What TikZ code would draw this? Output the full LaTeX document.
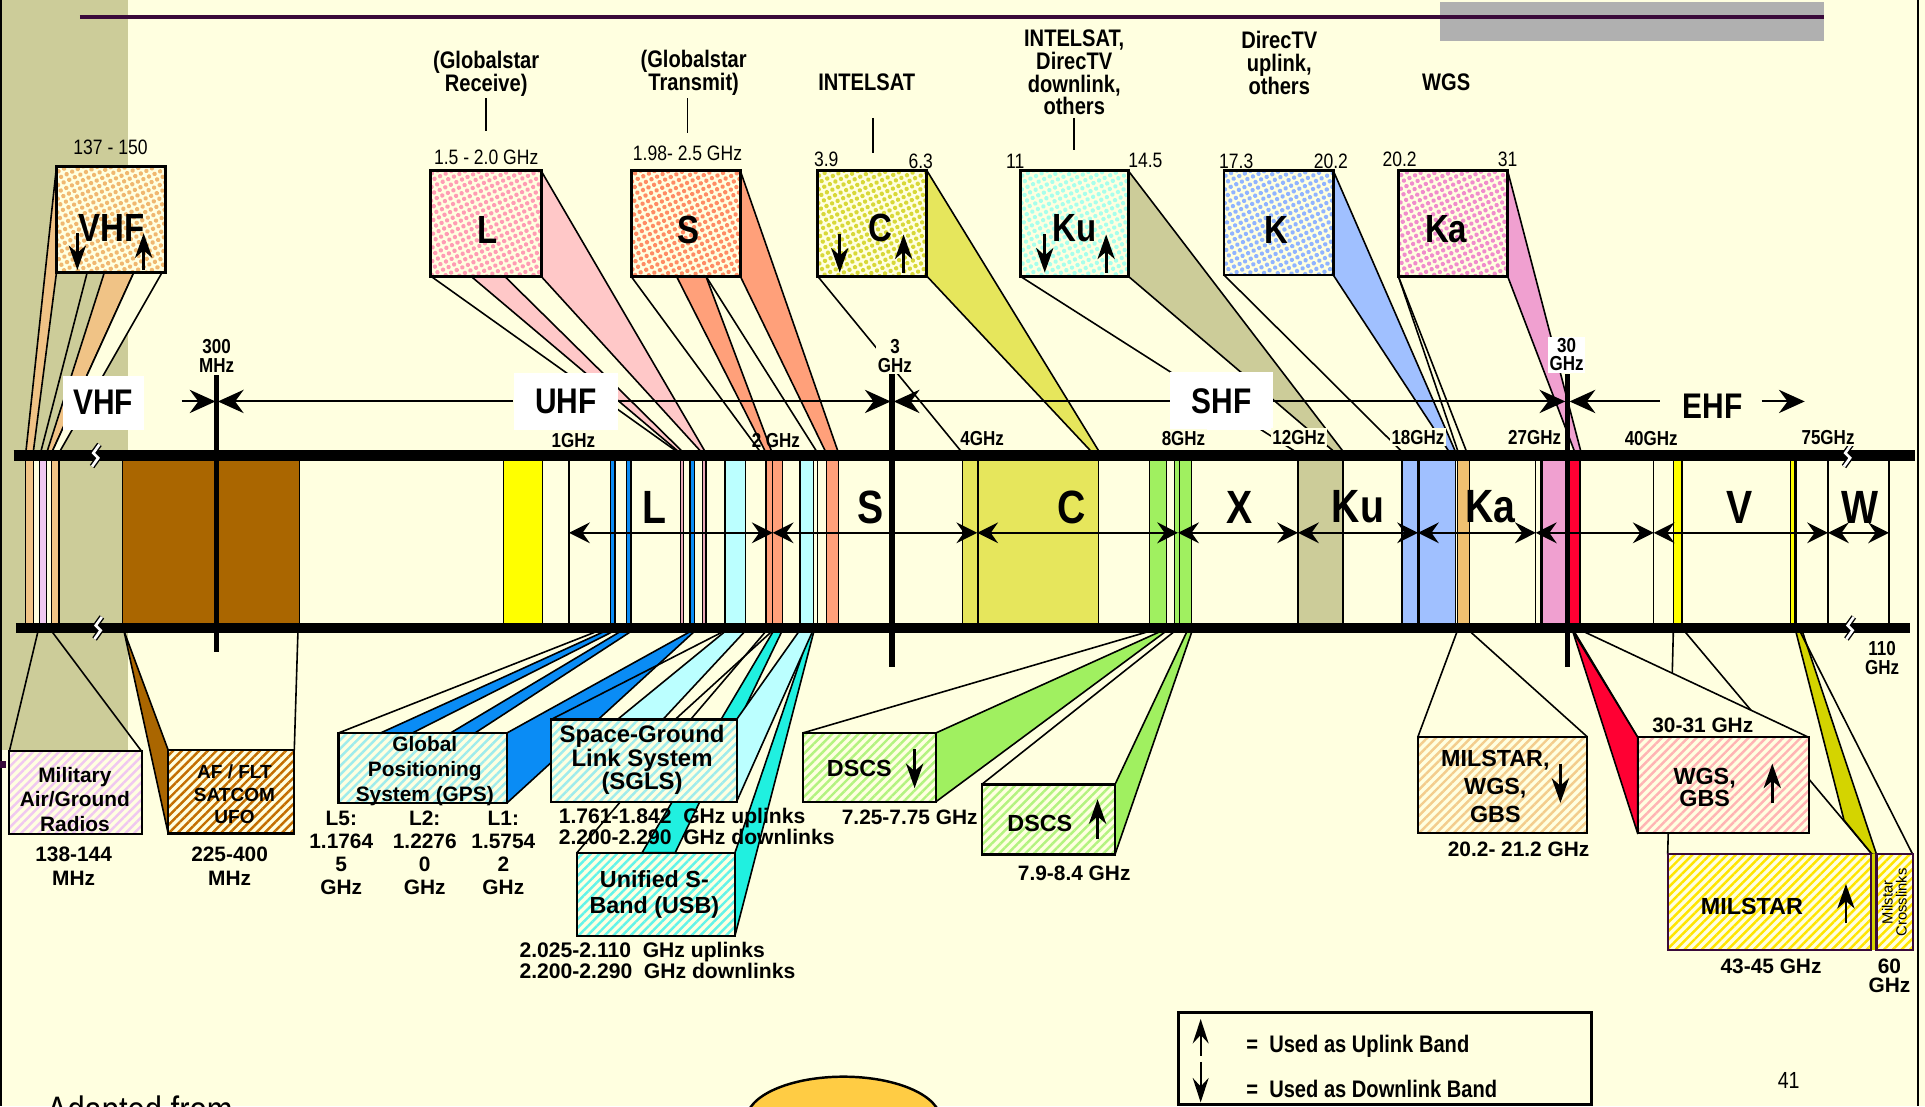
\documentclass[tikz,border=0pt]{standalone}
\usepackage{fontspec}
\setmainfont{Liberation Sans}
\newfontfamily\cnd{Liberation Sans}[FakeStretch=0.84]
\usetikzlibrary{arrows.meta,patterns.meta}

\definecolor{cream}{HTML}{FFFFE0}
\definecolor{olive}{HTML}{CCCC99}
\definecolor{tanb}{HTML}{F0C386}
\definecolor{lilac}{HTML}{F0C8F0}
\definecolor{brownb}{HTML}{AA6600}
\definecolor{ltpink}{HTML}{FFC8C8}
\definecolor{pinkt}{HTML}{E8A8B8}
\definecolor{salmon}{HTML}{FFA07A}
\definecolor{ygreen}{HTML}{E6E65C}
\definecolor{ltcyan}{HTML}{BBFFFF}
\definecolor{ltblue}{HTML}{A0C0FF}
\definecolor{pinkk}{HTML}{F0A0D0}
\definecolor{gpsblue}{HTML}{0A8CF5}
\definecolor{turq}{HTML}{20F0E0}
\definecolor{dscsgreen}{HTML}{A0F060}
\definecolor{redb}{HTML}{FF0033}
\definecolor{yel}{HTML}{FFFF00}
\definecolor{oyel}{HTML}{D4D400}
\definecolor{orangeb}{HTML}{F0C070}
\definecolor{plum}{HTML}{3A0A3A}
\definecolor{greyb}{HTML}{B0B0B0}
\definecolor{ellfill}{HTML}{FFCC44}
% texture colours of the upper boxes
\definecolor{dotVHF}{HTML}{F0B870}
\definecolor{dotL}{HTML}{FF9CB4}
\definecolor{dotS}{HTML}{FF8C64}
\definecolor{dotC}{HTML}{D8D838}
\definecolor{dotKu}{HTML}{A8FFEC}
\definecolor{dotK}{HTML}{90B4FF}
\definecolor{dotKa}{HTML}{F08CCC}

\newcommand\fRange{\cnd\bfseries\fontsize{29}{29}\selectfont}
\newcommand\fBand{\cnd\bfseries\fontsize{38}{38}\selectfont}
\newcommand\fBoxL{\cnd\bfseries\fontsize{32}{32}\selectfont}
\newcommand\fTitle{\cnd\bfseries\fontsize{19.5}{18.6}\selectfont}
\newcommand\fFreq{\cnd\fontsize{17}{17}\selectfont}
\newcommand\fEdge{\cnd\bfseries\fontsize{16.5}{15}\selectfont}
\newcommand\fBox{\bfseries\fontsize{17}{20}\selectfont}

\tikzset{
  fan/.style={draw=black, line width=1.3pt, line join=round},
  tbox/.style={draw=black, line width=2.4pt},
  rowA/.style={line width=1.6pt, -{Stealth[length=21pt,width=19pt,inset=7pt]}},
  rangeB/.style={line width=1.4pt, {Stealth[length=17pt,width=17pt,inset=6pt]}-{Stealth[length=17pt,width=17pt,inset=6pt]}},
  dirarrow/.style={line width=2.3pt, -{Stealth[length=20pt,width=14pt,inset=6pt]}},
  keyarrow/.style={line width=1.6pt, -{Stealth[length=20pt,width=13pt,inset=7pt]}},
  ttl/.style={font=\fTitle, align=center, inner sep=0pt},
  frq/.style={font=\fFreq, inner sep=0pt},
  edgel/.style={font=\fEdge, align=center, fill=cream, inner sep=1.5pt},
  bandl/.style={font=\fBand, inner sep=0pt},
  boxl/.style={font=\fBoxL, inner sep=0pt},
  btxt/.style={font=\fBox, align=center, inner sep=0pt},
}

\newcommand\bandfill[3]{\filldraw[fill=#1,draw=black,line width=1pt] (#2,371) rectangle (#3,511.5);}
\newcommand\bandline[1]{\draw[line width=1pt] (#1,371) -- (#1,511.5);}
\newcommand\dotbox[5]{%
  \fill[cream] (#2,#3) rectangle (#4,#5);
  \fill[pattern={Dots[radius=1.8pt,distance=5pt,angle=25]},pattern color=#1] (#2,#3) rectangle (#4,#5);
  \draw[tbox] (#2,#3) rectangle (#4,#5);}
\newcommand\hatchbox[6][black]{%
  \fill[cream] (#3,#4) rectangle (#5,#6);
  \fill[pattern={Lines[angle=45,distance=5pt,line width=2pt]},pattern color=#2] (#3,#4) rectangle (#5,#6);
  \draw[draw=#1,line width=1.8pt] (#3,#4) rectangle (#5,#6);}

\begin{document}
\begin{tikzpicture}[x=1pt,y=-1pt]
\useasboundingbox (0,0) rectangle (1568,901);
\clip (0,0) rectangle (1568,901);

% page ground
\fill[cream] (0,0) rectangle (1568,901);
\fill[olive] (2,0) rectangle (104,611);
\draw[line width=2pt] (1,0) -- (1,901);
\draw[line width=1.5pt] (1562,0) -- (1562,901);
\fill[plum] (0,620) rectangle (5,625.5);

% header rule
\fill[greyb] (1173,1.6) rectangle (1485.6,33);
\draw[plum, line width=3pt] (65,14) -- (1485.6,14);

% ---------------- spectrum strip ----------------
\bandfill{tanb}{21}{27}
\bandfill{cream}{27}{32}
\bandfill{lilac}{32}{38}
\bandfill{cream}{38}{42}
\bandfill{tanb}{42}{48}
\bandline{100}
\bandfill{brownb}{100}{244}
\bandfill{yel}{410}{442}
\bandline{463.5}
\bandfill{gpsblue}{497}{501}
\bandfill{gpsblue}{510}{514}
\bandfill{pinkt}{554}{557}
\bandfill{gpsblue}{562}{566}
\bandfill{pinkt}{572}{575}
\bandfill{ltcyan}{590.5}{607.5}
\bandfill{salmon}{624}{629.4}
\bandfill{salmon}{629.4}{637.5}
\bandfill{ltcyan}{651.6}{662.5}
\bandline{666}
\bandfill{salmon}{673}{683}
\bandfill{ygreen}{784}{796}
\bandfill{ygreen}{796.6}{895}
\bandfill{dscsgreen}{936}{950}
\bandfill{dscsgreen}{956.7}{961}
\bandfill{dscsgreen}{961}{970.5}
\bandfill{olive}{1057.3}{1094}
\bandfill{ltblue}{1142}{1155}
\bandfill{ltblue}{1156}{1185.5}
\bandfill{orangeb}{1187}{1197}
\bandline{1251}
\bandline{1255}
\bandfill{pinkk}{1256}{1275}
\bandfill{redb}{1278.6}{1287}
\bandline{1347}
\bandfill{yel}{1363}{1370}
\bandfill{yel}{1458.6}{1462}
\bandline{1463.6}
\bandline{1489}
\bandline{1538.7}

% ---------------- upper fans ----------------
% VHF
\filldraw[fan, fill=tanb] (46,136) -- (46,222) -- (27,369) -- (21,369) -- cycle;
\draw[fan] (71,222) -- (33,369);
\filldraw[fan, fill=tanb] (85,222) -- (109,222) -- (42,369) -- (38,369) -- cycle;
\filldraw[fan, fill=cream] (109,222) -- (132,222) -- (48,369) -- (42,369) -- cycle;
% L
\draw[fan] (351,225) -- (553,369);
\filldraw[fan, fill=ltpink] (383.6,225) -- (411,225) -- (557,369) -- (554,369) -- cycle;
\filldraw[fan, fill=ltpink] (440.7,139) -- (575,369) -- (572,369) -- (440.7,225) -- cycle;
% S
\draw[fan] (514,225) -- (620,369);
\filldraw[fan, fill=salmon] (551,225) -- (575,225) -- (629,369) -- (624,369) -- cycle;
\draw[fan] (575,225) -- (666,369);
\filldraw[fan, fill=salmon] (603,139) -- (683,369) -- (673,369) -- (603,225) -- cycle;
% C
\draw[fan] (666,225) -- (784,369);
\filldraw[fan, fill=ygreen] (755,139) -- (896,369) -- (890,369) -- (755,225) -- cycle;
% Ku
\draw[fan] (831,225) -- (1057,369);
\filldraw[fan, fill=olive] (919,139) -- (1095,369) -- (1088,369) -- (919,225) -- cycle;
% K
\draw[fan] (997,224) -- (1143,369);
\filldraw[fan, fill=ltblue] (1086,139) -- (1186,369) -- (1181,369) -- (1086,224) -- cycle;
% Ka
\draw[fan] (1139,225) -- (1188,369);
\draw[fan] (1139,225) -- (1195,369);
\filldraw[fan, fill=pinkk] (1228,139) -- (1288,369) -- (1283,369) -- (1228,225) -- cycle;

% ---------------- lower fans ----------------
% military radios
\draw[fan] (31,514) -- (7.6,612);
\draw[fan] (42,514) -- (115.4,612);
% UFO
\filldraw[fan, fill=brownb] (101,514) -- (137,611) -- (137,679) -- cycle;
\draw[fan] (242.7,514) -- (239.7,611);
% GPS
\draw[fan] (487,514) -- (275.8,597);
\filldraw[fan, fill=gpsblue] (493,514) -- (500,514) -- (336,597) -- (310,597) -- cycle;
\filldraw[fan, fill=gpsblue] (506,514) -- (514.5,514) -- (387,597) -- (367,597) -- cycle;
\filldraw[fan, fill=gpsblue] (563,514) -- (566,514) -- (413,654) -- (413,597) -- cycle;
% USB (behind SGLS)
\draw[fan] (624,514) -- (470,694.5);
\filldraw[fan, fill=turq] (630,514) -- (637,514) -- (550,694.5) -- (523,694.5) -- cycle;
\filldraw[fan, fill=turq] (660,514) -- (663,514) -- (598.7,762) -- (598.7,694.5) -- cycle;
% SGLS
\draw[fan] (590,514) -- (449,586);
\filldraw[fan, fill=ltcyan] (591,514) -- (607,514) -- (540,586) -- (503,586) -- cycle;
\draw[fan] (629,514) -- (550,586);
\filldraw[fan, fill=ltcyan] (651,514) -- (662,514) -- (600,653) -- (600,586) -- cycle;
% DSCS
\draw[fan] (937,514) -- (654,597);
\filldraw[fan, fill=dscsgreen] (946,514) -- (950,514) -- (762.4,653) -- (762.4,597) -- cycle;
\draw[fan] (957,514) -- (799.6,639);
\filldraw[fan, fill=dscsgreen] (967,514) -- (971,514) -- (908.2,696) -- (908.2,639) -- cycle;
% MILSTAR / WGS / GBS downlink
\draw[fan] (1187,514) -- (1155,600);
\draw[fan] (1197,514) -- (1292.7,600);
% MILSTAR uplink and crosslinks
\draw[fan] (1363,514) -- (1358.4,696);
\draw[fan] (1372,514) -- (1525,696);
\filldraw[fan, fill=oyel] (1462.7,514) -- (1502,668) -- (1525,696) -- (1528.5,696) -- (1468,514) -- cycle;
\draw[fan] (1466,514) -- (1558,696);
% WGS / GBS uplink
\filldraw[fan, fill=cream] (1282,514) -- (1289,514) -- (1473.3,600.6) -- (1334,600.6) -- cycle;
\filldraw[fan, fill=redb] (1281,514) -- (1334,600.6) -- (1334,679) -- cycle;

% ---------------- bars and boundaries ----------------
\draw[line width=8.5pt] (11,371) -- (1560,371);
\draw[line width=8.5pt] (13,511.5) -- (1556,511.5);
\foreach \bx/\by in {78/371, 80/511.5, 1505/371, 1507/511.5}{
  \draw[line width=4.5pt] (\bx-3,\by+9) -- (\bx+2,\by+2) -- (\bx-2,\by-2) -- (\bx+3,\by-9);
  \draw[white, line width=2.2pt] (\bx-3,\by+9) -- (\bx+2,\by+2) -- (\bx-2,\by-2) -- (\bx+3,\by-9);
}
\draw[line width=4.5pt] (176.4,305.5) -- (176.4,530.8);
\draw[line width=4.5pt] (726.7,305) -- (726.7,543);
\draw[line width=4.2pt] (1276.5,305) -- (1276.5,543);

% ---------------- range arrows ----------------
\draw[rowA] (148,327) -- (175.5,327);
\draw[rowA] (418,327) -- (177.5,327);
\draw[rowA] (503,327) -- (725.5,327);
\draw[rowA] (953,327) -- (728,327);
\draw[rowA] (1037,327) -- (1275,327);
\draw[rowA] (1352,327) -- (1278.5,327);
\draw[rowA] (1435,327) -- (1470,327);
\foreach \a/\b in {463.5/629.4, 629.4/796, 796/959.6, 959.6/1057.3, 1057.3/1155, 1155/1251, 1251/1347, 1347/1489, 1489/1538.7}
  \draw[rangeB] (\a,434) -- (\b,434);

\node[fill=white, minimum width=66pt, minimum height=44pt, font=\fRange] (rVHF) at (84,328) {VHF};
\node[fill=white, minimum width=85pt, minimum height=46pt, font=\fRange] (rUHF) at (461,327) {UHF};
\node[fill=white, minimum width=84pt, minimum height=47pt, font=\fRange] (rSHF) at (995,326.5) {SHF};
\node[font=\fRange, inner sep=0pt] (rEHF) at (1395,331) {EHF};

\node[edgel] (e300) at (176.4,290) {300\\MHz};
\node[edgel] (e3) at (729,290) {3\\GHz};
\node[edgel, fill=white] (e30) at (1276,289) {30\\GHz};
\node[edgel, fill=none] (e110) at (1533,536) {110\\GHz};
\node[edgel] (g1) at (467,358.5) {1GHz};
\node[edgel, fill=none] (g2) at (632,358.5) {2 GHz};
\node[edgel] (g4) at (800,357) {4GHz};
\node[edgel] (g8) at (964,357) {8GHz};
\node[edgel] (g12) at (1058,356) {12GHz};
\node[edgel] (g18) at (1155,356) {18GHz};
\node[edgel] (g27) at (1250,356) {27GHz};
\node[edgel] (g40) at (1345,357) {40GHz};
\node[edgel] (g75) at (1489,356) {75GHz};

\node[bandl] (bL) at (533,413) {L};
\node[bandl] (bS) at (709,413) {S};
\node[bandl] (bC) at (873,413) {C};
\node[bandl] (bX) at (1010,413) {X};
\node[bandl] (bKu) at (1106,413) {Ku};
\node[bandl] (bKa) at (1214,413) {Ka};
\node[bandl] (bV) at (1417,413) {V};
\node[bandl] (bW) at (1515,413) {W};

% ---------------- upper boxes ----------------
\dotbox{dotVHF}{46}{136}{135}{222}
\dotbox{dotL}{351}{139}{440.7}{225}
\dotbox{dotS}{514}{139}{603}{225}
\dotbox{dotC}{666}{139}{755}{225}
\dotbox{dotKu}{831}{139}{919}{225}
\dotbox{dotK}{997}{139}{1086}{224}
\dotbox{dotKa}{1139}{139}{1228}{225}
\node[boxl] (kVHF) at (91,186) {VHF};
\node[boxl] (kL) at (397,187) {L};
\node[boxl] (kS) at (561,187) {S};
\node[boxl] (kC) at (717,186) {C};
\node[boxl] (kKu) at (875,186) {Ku};
\node[boxl] (kK) at (1040,187) {K};
\node[boxl] (kKa) at (1178,187) {Ka};
\draw[dirarrow] (63,190) -- (63,220);
\draw[dirarrow] (117,220) -- (117,190);
\draw[dirarrow] (684,191) -- (684,222);
\draw[dirarrow] (736,222) -- (736,191);
\draw[dirarrow] (851,191) -- (851,222);
\draw[dirarrow] (901,222) -- (901,191);

% ---------------- upper captions ----------------
\node[ttl] (tGR) at (396,60) {(Globalstar\\Receive)};
\node[ttl] (tGT) at (565,59) {(Globalstar\\Transmit)};
\node[ttl] (tIS) at (706,67) {INTELSAT};
\node[ttl] (tID) at (875,59) {INTELSAT,\\DirecTV\\downlink,\\others};
\node[ttl] (tDU) at (1042,51.5) {DirecTV\\uplink,\\others};
\node[ttl] (tWG) at (1178,67) {WGS};
\draw[line width=1.3pt] (396,80) -- (396,107);
\draw[line width=1.3pt] (560,80) -- (560,108);
\draw[line width=1.3pt] (711,96) -- (711,125);
\draw[line width=1.3pt] (875,96) -- (875,122);

\node[frq] (f1) at (90,120) {137 - 150};
\node[frq] (f2) at (396,128) {1.5 - 2.0 GHz};
\node[frq] (f3) at (560,125) {1.98- 2.5 GHz};
\node[frq] (f4) at (673,130) {3.9};
\node[frq] (f5) at (750,131) {6.3};
\node[frq] (f6) at (827,131) {11};
\node[frq] (f7) at (933,131) {14.5};
\node[frq] (f8) at (1007,131) {17.3};
\node[frq] (f9) at (1084,131) {20.2};
\node[frq] (f10) at (1140,130) {20.2};
\node[frq] (f11) at (1228,130) {31};

% ---------------- lower boxes ----------------
\hatchbox{lilac}{7.6}{612}{115.4}{679.6}
\node[btxt] (mil) at (61,651) {Military\\Air/Ground\\Radios};
\node[btxt] (milf) at (60,705.5) {138-144\\MHz};

\hatchbox{brownb!70!orange}{137}{611}{239.7}{679}
\node[btxt, font=\bfseries\fontsize{15.5}{18.5}\selectfont] (ufo) at (191,647) {AF / FLT\\SATCOM\\UFO};
\node[btxt] (ufof) at (187,705.5) {225-400\\MHz};

\hatchbox{ltcyan!85!teal}{275.8}{597}{413}{653.8}
\node[btxt, font=\bfseries\fontsize{17}{20.5}\selectfont] (gps) at (346,628) {Global\\Positioning\\System (GPS)};
\node[btxt, font=\bfseries\fontsize{17}{18.7}\selectfont] (gl5) at (278,694.5) {L5:\\1.1764\\5\\GHz};
\node[btxt, font=\bfseries\fontsize{17}{18.7}\selectfont] (gl2) at (346,694.5) {L2:\\1.2276\\0\\GHz};
\node[btxt, font=\bfseries\fontsize{17}{18.7}\selectfont] (gl1) at (410,694.5) {L1:\\1.5754\\2\\GHz};

\hatchbox{turq!70!white}{470}{694.5}{598.7}{762.4}
\node[btxt, font=\bfseries\fontsize{19}{21}\selectfont] (usb) at (533,728.5) {Unified S-\\Band (USB)};
\node[btxt, font=\bfseries\fontsize{17.2}{17}\selectfont, align=left, anchor=west] (usbf) at (423,782.5) {2.025-2.110\ \ GHz uplinks\\2.200-2.290\ \ GHz downlinks};

\hatchbox{ltcyan!85!teal}{449}{586}{600}{653}
\node[btxt, font=\bfseries\fontsize{19.5}{18}\selectfont] (sgls) at (523,619) {Space-Ground\\Link System\\(SGLS)};
\node[btxt, font=\bfseries\fontsize{17.2}{17}\selectfont, align=left, anchor=west] (sglsf) at (455,673.5) {1.761-1.842\ \ GHz uplinks\\2.200-2.290\ \ GHz downlinks};

\hatchbox{dscsgreen!80!white}{653.8}{597}{762.4}{653}
\node[btxt, font=\bfseries\fontsize{19}{19}\selectfont] (dd) at (700,626) {DSCS};
\draw[dirarrow] (745,610) -- (745,642);
\node[btxt] (ddf) at (741,666) {7.25-7.75 GHz};

\hatchbox{dscsgreen!80!white}{799.6}{639}{908.2}{696}
\node[btxt, font=\bfseries\fontsize{19}{19}\selectfont] (du) at (847,670.5) {DSCS};
\draw[dirarrow] (894,683) -- (894,651);
\node[btxt] (duf) at (875,711) {7.9-8.4 GHz};

\hatchbox{orangeb!80!white}{1155}{600}{1292.7}{678.8}
\node[btxt, font=\bfseries\fontsize{19}{23}\selectfont] (mwg) at (1218,640.5) {MILSTAR,\\WGS,\\GBS};
\draw[dirarrow] (1271,622) -- (1271,654);
\node[btxt] (mwgf) at (1237,692) {20.2- 21.2 GHz};

\hatchbox{ltpink!90!red}{1334}{600.6}{1473.3}{678.8}
\node[btxt, font=\bfseries\fontsize{19}{18}\selectfont] (wg) at (1388.5,641.5) {WGS,\\GBS};
\draw[dirarrow] (1443.6,654) -- (1443.6,622);
\node[btxt] (wgf) at (1387,591) {30-31 GHz};

\fill[oyel] (1524,696) rectangle (1528.5,773.8);
\hatchbox[plum]{yel!80!orange}{1358.4}{695.9}{1524}{773.8}
\node[btxt, font=\bfseries\fontsize{19}{19}\selectfont] (ms) at (1427,738) {MILSTAR};
\draw[dirarrow] (1503.6,752) -- (1503.6,720);
\node[btxt] (msf) at (1442.6,787) {43-45 GHz};

\hatchbox[plum]{yel!80!orange}{1528.5}{695.9}{1558}{773.8}
\node[rotate=90, align=center, inner sep=0pt, font=\fontsize{12}{11.5}\selectfont] (xl) at (1543,735) {Milstar\\Crosslinks};
\node[btxt, font=\bfseries\fontsize{17}{15.5}\selectfont] (xlf) at (1539,795) {60\\GHz};

% ---------------- key ----------------
\draw[line width=2.3pt] (960,825) rectangle (1296.5,899.5);
\draw[keyarrow] (978,860) -- (978,830);
\draw[keyarrow] (978,865) -- (978,898);
\node[anchor=west, inner sep=0pt, font=\cnd\bfseries\fontsize{19.5}{19.5}\selectfont] (kup) at (1015,852) {=\ \ Used as Uplink Band};
\node[anchor=west, inner sep=0pt, font=\cnd\bfseries\fontsize{19.5}{19.5}\selectfont] (kdn) at (1015,887) {=\ \ Used as Downlink Band};

\node[inner sep=0pt, font=\cnd\fontsize{19}{19}\selectfont] (pg) at (1457,880) {41};

% footer
\filldraw[fill=ellfill, line width=2pt] (687,912) ellipse [x radius=79, y radius=35];
\node[anchor=base west, inner sep=0pt, font=\cnd\fontsize{30}{30}\selectfont] (src) at (38,914) {Adapted from};
\end{tikzpicture}
\end{document}
